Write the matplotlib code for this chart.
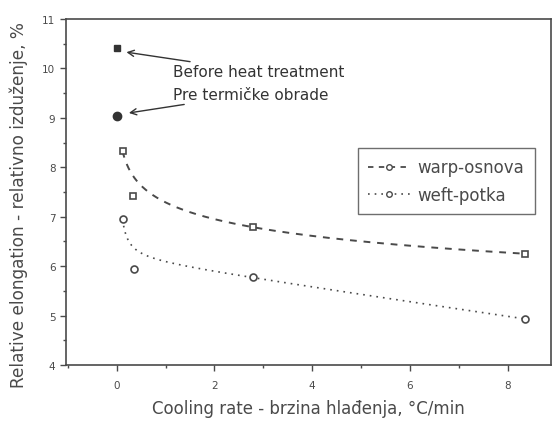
import numpy as np
import matplotlib
matplotlib.use("Agg")
import matplotlib.pyplot as plt
from matplotlib.ticker import MultipleLocator

# Data
warp_x = [0.12, 0.33, 2.78, 8.36]
warp_y = [8.33, 7.42, 6.79, 6.25]
weft_x = [0.12, 0.35, 2.78, 8.36]
weft_y = [6.95, 5.94, 5.77, 4.93]
before_x = [0.0, 0.0]
before_y = [10.41, 9.03]
before_labels = ["Before heat treatment", "Pre termičke obrade"]
xticks = [0, 2, 4, 6, 8]
yticks = [4, 5, 6, 7, 8, 9, 10, 11]

gray = "#4a4a4a"
plt.rcParams['font.family'] = ['DejaVu Sans']

fig = plt.figure(figsize=(5.53, 4.27), dpi=100)
ax = fig.add_axes([0.119, 0.143, 0.877, 0.81])

def trend_fit(x, y, basis, w):
    x = np.asarray(x, float)
    y = np.asarray(y, float)
    w = np.asarray(w, float)
    A = np.column_stack([f(x) for f in basis])
    coef, *_ = np.linalg.lstsq(A * w[:, None], y * w, rcond=None)
    xs = np.linspace(x.min(), x.max(), 400)
    return xs, np.column_stack([f(xs) for f in basis]) @ coef

wts = [1, 0.05, 1, 1]
xs, ys = trend_fit(warp_x, warp_y, [np.ones_like, np.log, lambda t: t], wts)
ax.plot(xs, ys, color=gray, lw=1.4, dashes=(3.5, 3.5))
xs, ys = trend_fit(weft_x, weft_y, [np.ones_like, lambda t: 1 / t, lambda t: t], wts)
ax.plot(xs, ys, color=gray, lw=1.2, dashes=(1, 3))

ax.plot(warp_x, warp_y, ls='none', marker='s', ms=5, mfc='white', mec=gray, mew=1.2)
ax.plot(weft_x, weft_y, ls='none', marker='o', ms=5, mfc='white', mec=gray, mew=1.2)

# legend proxies
ax.plot([], [], color=gray, lw=1.3, dashes=(3, 3), marker='o', ms=4, mfc='white',
        mec=gray, label='warp-osnova')
ax.plot([], [], color=gray, lw=1.2, dashes=(1, 3), marker='o', ms=4, mfc='white',
        mec=gray, label='weft-potka')

ax.plot(before_x[0], before_y[0], ls='none', marker='s', ms=5, color='#333333')
ax.plot(before_x[1], before_y[1], ls='none', marker='o', ms=6, color='#333333')

ax.annotate(before_labels[0], xy=(0.2, 10.33), xytext=(1.16, 9.93),
            fontsize=11, color='#333333', va='center', ha='left',
            arrowprops=dict(arrowstyle='->', color='#333333', lw=1.0,
                            shrinkA=0, shrinkB=0))
ax.annotate(before_labels[1], xy=(0.25, 9.1), xytext=(1.16, 9.48),
            fontsize=11, color='#333333', va='center', ha='left',
            arrowprops=dict(arrowstyle='->', color='#333333', lw=1.0,
                            shrinkA=0, shrinkB=0))

ax.set_xlim(-1.04, 8.88)
ax.set_ylim(4, 11)
ax.set_xticks(xticks)
ax.set_yticks(yticks)
ax.xaxis.set_minor_locator(MultipleLocator(1))
ax.yaxis.set_minor_locator(MultipleLocator(0.5))
ax.tick_params(which='both', direction='out', colors=gray, labelsize=7.5, width=1)
ax.tick_params(which='major', length=4)
ax.tick_params(which='minor', length=2)
ax.tick_params(axis='x', which='major', pad=7)
ax.tick_params(top=False, right=False)
for s in ax.spines.values():
    s.set_color(gray)
    s.set_linewidth(1.2)

ax.set_xlabel("Cooling rate - brzina hlađenja, °C/min", fontsize=12, color=gray,
              labelpad=6)
ax.set_ylabel("Relative elongation - relativno izduženje, %", fontsize=12.2, color=gray)
ax.yaxis.set_label_coords(-0.077, 0.465)

leg = ax.legend(loc='upper left', bbox_to_anchor=(0.602, 0.626), fontsize=12,
                frameon=True, fancybox=False, handlelength=2.6, borderpad=0.6,
                labelspacing=0.55, handletextpad=0.4, borderaxespad=0)
leg.get_frame().set_edgecolor(gray)
leg.get_frame().set_linewidth(1.0)
for t in leg.get_texts():
    t.set_color(gray)

fig.savefig("out.png", dpi=100)
